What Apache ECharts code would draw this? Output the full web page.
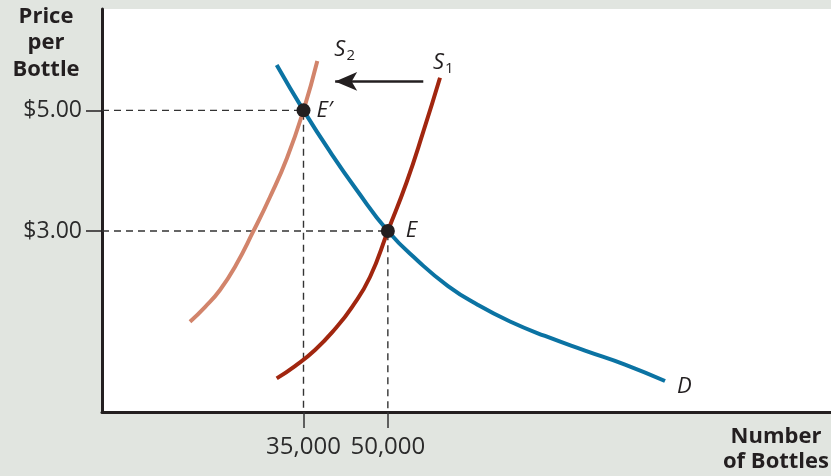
<!DOCTYPE html>
<html>
<head>
<meta charset="utf-8">
<script src="https://cdn.jsdelivr.net/npm/echarts@6/dist/echarts.min.js"></script>
<style>
  html, body { margin: 0; padding: 0; background: #e1e5e0; }
  #chart { width: 831px; height: 476px; }
</style>
</head>
<body>
<div id="chart"></div>
<script>
// Demand curve D (bottles, price per bottle)
const demandQty   = [30235, 35000, 39713, 44461, 50000, 55361, 60696, 66030, 71721, 77944, 85057, 92170, 99283];
const demandPrice = [5.752, 5.00, 4.315, 3.680, 3.00, 2.503, 2.088, 1.774, 1.500, 1.260, 1.019, 0.787, 0.514];

// Original supply curve S1
const supply1Qty   = [30235, 33489, 37046, 40602, 43625, 46826, 50000, 53352, 56304, 59273];
const supply1Price = [0.558, 0.762, 1.028, 1.376, 1.740, 2.238, 3.00, 3.812, 4.646, 5.541];

// Shifted supply curve S2
const supply2Qty   = [14818, 17485, 20153, 22998, 26021, 29044, 32067, 35000, 37455];
const supply2Price = [1.497, 1.740, 2.022, 2.437, 2.984, 3.564, 4.210, 5.00, 5.818];

// Equilibrium points
const eqNames = ['E\u2032', 'E'];
const eqQty   = [35000, 50000];
const eqPrice = [5.00, 3.00];

// Axis ticks
const priceTicks      = [3, 5];
const priceTickLabels = ['$3.00', '$5.00'];
const qtyTicks        = [35000, 50000];
const qtyTickLabels   = ['35,000', '50,000'];

// Leftward shift arrow from S1 toward S2
const shiftArrowQty   = [56300, 40630];
const shiftArrowPrice = 5.48;

// Axis ranges
const qtyMin = -830, qtyMax = 128800;
const priceMin = 0, priceMax = 6.68;

const INK = '#231f20';
const FONT = 'Open Sans';

const zip = (xs, ys) => xs.map((x, i) => [x, ys[i]]);

const curveLabel = (main, sub, offset) => ({
  show: true,
  offset: offset,
  formatter: sub ? '{s|' + main + '}{sub|' + sub + '}' : '{s|' + main + '}',
  rich: {
    s:   { fontFamily: FONT, fontStyle: 'italic', fontSize: 22, color: INK },
    sub: { fontFamily: FONT, fontSize: 15, color: INK, padding: [12, 0, 0, 1] }
  }
});

const curve = (name, data, color, label) => ({
  name: name,
  type: 'line',
  data: data,
  smooth: 0.5,
  showSymbol: false,
  symbol: 'none',
  silent: true,
  z: 3,
  lineStyle: { color: color, width: 4 },
  endLabel: label
});

const guides = eqQty.map((q, i) => ({
  type: 'line',
  data: [[qtyMin, eqPrice[i]], [q, eqPrice[i]], [q, priceMin]],
  showSymbol: false,
  symbol: 'none',
  silent: true,
  z: 2,
  lineStyle: { color: '#333', width: 1.4, type: [7, 5] }
}));

const chart = echarts.init(document.getElementById('chart'), null, { renderer: 'canvas' });

chart.setOption({
  animation: false,
  backgroundColor: '#e1e5e0',
  grid: {
    left: 102, right: 0, top: 9, bottom: 64,
    show: true, backgroundColor: '#ffffff', borderWidth: 0
  },
  xAxis: {
    type: 'value',
    min: qtyMin, max: qtyMax,
    axisLine: { show: true, lineStyle: { color: INK, width: 3 } },
    axisTick: { show: true, customValues: qtyTicks, length: 16, lineStyle: { color: '#333', width: 1.5 } },
    axisLabel: {
      customValues: qtyTicks,
      formatter: v => qtyTickLabels[qtyTicks.indexOf(v)],
      margin: 23, fontSize: 24, fontFamily: FONT, color: '#2b2b2b',
      hideOverlap: false
    },
    splitLine: { show: false }
  },
  yAxis: {
    type: 'value',
    min: priceMin, max: priceMax,
    axisLine: { show: true, onZero: false, lineStyle: { color: INK, width: 3 } },
    axisTick: { show: true, customValues: priceTicks, length: 16, lineStyle: { color: INK, width: 1.5 } },
    axisLabel: {
      customValues: priceTicks,
      formatter: v => priceTickLabels[priceTicks.indexOf(v)],
      margin: 20, fontSize: 23, fontFamily: FONT, color: '#2b2b2b'
    },
    splitLine: { show: false }
  },
  graphic: [
    {
      type: 'text', x: 46, y: 3,
      style: {
        text: 'Price\nper\nBottle', align: 'center', verticalAlign: 'top',
        font: 'bold 22px "Open Sans"', lineHeight: 26.5, fill: INK
      }
    },
    {
      type: 'text', x: 776, y: 424,
      style: {
        text: 'Number\nof Bottles', align: 'center', verticalAlign: 'top',
        font: 'bold 22px "Open Sans"', lineHeight: 25, fill: INK
      }
    }
  ],
  series: [
    ...guides,
    curve('S2', zip(supply2Qty, supply2Price), '#d2846b', curveLabel('S', '2', [9, -11])),
    curve('S1', zip(supply1Qty, supply1Price), '#a1260f', curveLabel('S', '1', [-15, -15])),
    curve('D', zip(demandQty, demandPrice), '#0b73a3', curveLabel('D', null, [4, 6])),
    {
      name: 'shift',
      type: 'line',
      data: [],
      silent: true,
      markLine: {
        silent: true,
        animation: false,
        symbol: ['none', 'arrow'],
        symbolSize: [0, 18],
        label: { show: false },
        lineStyle: { color: INK, width: 2.5, type: 'solid' },
        emphasis: { disabled: true },
        data: [[
          { coord: [shiftArrowQty[0], shiftArrowPrice], symbol: 'none' },
          { coord: [shiftArrowQty[1], shiftArrowPrice], symbol: 'arrow', symbolSize: [14, 22] }
        ]]
      }
    },
    {
      name: 'equilibrium',
      type: 'scatter',
      data: eqQty.map((q, i) => ({
        name: eqNames[i],
        value: [q, eqPrice[i]],
        label: { distance: i === 0 ? 6 : 11 }
      })),
      symbol: 'circle',
      symbolSize: 14,
      silent: true,
      z: 5,
      itemStyle: { color: INK, opacity: 1 },
      label: {
        show: true, position: 'right', formatter: '{b}',
        fontFamily: FONT, fontStyle: 'italic', fontSize: 22, color: INK
      }
    }
  ]
});
</script>
</body>
</html>
